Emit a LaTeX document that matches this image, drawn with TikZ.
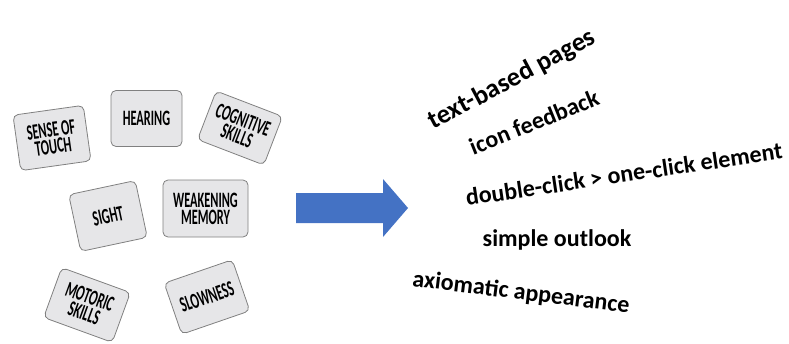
\documentclass[tikz,border=0pt]{standalone}
\usepackage{fontspec}
\setmainfont{Carlito}
\newfontfamily\boxfont[FakeStretch=0.56]{Carlito}
\definecolor{boxfill}{HTML}{E6E6E8}
\definecolor{boxline}{HTML}{808080}
\definecolor{arrowblue}{HTML}{4472C4}
\tikzset{
  card/.style={draw=boxline, fill=boxfill, line width=0.8pt, rounded corners=5pt,
    minimum width=71pt, minimum height=56pt, inner sep=0pt, align=center,
    font=\boxfont\bfseries\fontsize{22}{17}\selectfont},
  phrase/.style={font=\bfseries\fontsize{24}{28}\selectfont, inner sep=0pt, text=black}
}
\begin{document}
\begin{tikzpicture}[x=1pt,y=-1pt]
\path[use as bounding box] (0,0) rectangle (789,343);
% cards
\node[card, rotate=8]  (touch)  at (52,138)  {SENSE OF\\TOUCH};
\node[card]            (hear)   at (146.5,118.5) {HEARING};
\node[card, rotate=-21, minimum height=52pt] (cog) at (240,128) {COGNITIVE\\SKILLS};
\node[card, rotate=12, minimum width=68pt, minimum height=58pt] (sight) at (108,216) {SIGHT};
\node[card, minimum width=85pt, minimum height=57pt] (weak) at (205.5,208.5) {WEAKENING\\MEMORY};
\node[card, rotate=-20, minimum width=73pt, minimum height=53pt] (motor) at (87,305) {MOTORIC\\SKILLS};
\node[card, rotate=19, minimum width=72pt, minimum height=54pt] (slow) at (207,297) {SLOWNESS};
% arrow
\fill[arrowblue] (296,193) -- (383,193) -- (383,179) -- (408,208) -- (383,237) -- (383,223) -- (296,223) -- cycle;
% phrases
\node[phrase, rotate=28, font=\bfseries\fontsize{26.5}{30}\selectfont] (p1) at (512,80) {text-based pages};
\node[phrase, rotate=22]  (p2) at (534,122) {icon feedback};
\node[phrase, rotate=8.5] (p3) at (624,174) {double-click > one-click element};
\node[phrase]             (p4) at (557,240) {simple outlook};
\node[phrase, rotate=-7]  (p5) at (521,293) {axiomatic appearance};
\end{tikzpicture}
\end{document}
